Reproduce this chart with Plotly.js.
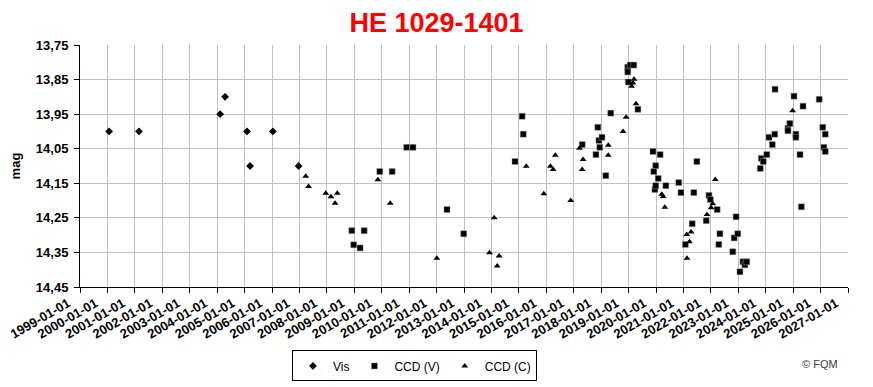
<!DOCTYPE html>
<html>
<head>
<meta charset="utf-8">
<script src="https://cdn.plot.ly/plotly-3.0.1.min.js"></script>
<style>
  html, body { margin: 0; padding: 0; background: #ffffff; }
  #chart { width: 873px; height: 387px; }
</style>
</head>
<body>
<div id="chart"></div>
<script>
// ---- Data (decimal years, magnitudes) ----
const visX = [2000.06, 2001.15, 2004.11, 2004.29, 2005.09, 2005.20, 2006.03, 2006.97];
const visY = [14.00, 14.00, 13.95, 13.90, 14.00, 14.10, 14.00, 14.10];

const ccdVX = [2008.91, 2008.98, 2009.21, 2009.36, 2009.93, 2010.38, 2010.91, 2011.14, 2012.38, 2012.99,
  2014.86, 2015.12, 2015.16, 2017.31, 2017.81, 2017.88, 2017.92, 2017.95, 2018.03, 2018.17,
  2018.35, 2018.97, 2018.97, 2018.99, 2019.06, 2019.19, 2019.34, 2019.89, 2019.92, 2019.96,
  2019.99, 2019.99, 2020.08, 2020.15, 2020.36, 2020.83, 2020.91, 2021.07, 2021.32, 2021.38,
  2021.49, 2021.83, 2021.93, 2021.98, 2022.23, 2022.29, 2022.33, 2022.80, 2022.85, 2022.92,
  2022.98, 2023.06, 2023.17, 2023.24, 2023.31, 2023.80, 2023.84, 2023.91, 2024.04, 2024.12,
  2024.24, 2024.33, 2024.34, 2024.81, 2024.81, 2024.88, 2025.03, 2025.10, 2025.10, 2025.25,
  2025.30, 2025.36, 2025.95, 2026.08, 2026.12, 2026.17, 2026.17];
const ccdVY = [14.287, 14.328, 14.337, 14.287, 14.116, 14.116, 14.046, 14.046, 14.226, 14.296,
  14.087, 13.956, 14.008, 14.038, 14.067, 13.988, 14.026, 14.046, 14.017, 14.128,
  13.947, 13.814, 13.828, 13.857, 13.808, 13.808, 13.936, 14.058, 14.116, 14.168,
  14.099, 14.157, 14.136, 14.067, 14.157, 14.148, 14.177, 14.327, 14.267, 14.177,
  14.087, 14.258, 14.185, 14.197, 14.226, 14.327, 14.296, 14.348, 14.308, 14.247,
  14.296, 14.406, 14.377, 14.386, 14.377, 14.107, 14.078, 14.087, 14.067, 14.017,
  14.038, 14.008, 13.878, 13.991, 13.998, 13.977, 13.898, 14.008, 14.017, 14.067,
  14.218, 13.927, 13.907, 13.988, 14.046, 14.008, 14.058];

const ccdCX = [2007.23, 2007.33, 2007.96, 2008.15, 2008.30, 2008.38, 2009.86, 2010.31, 2012.01, 2013.93,
  2014.10, 2014.21, 2014.28, 2015.27, 2015.91, 2016.15, 2016.25, 2016.33, 2016.89, 2017.21,
  2017.31, 2017.34, 2018.26, 2018.26, 2018.80, 2018.91, 2019.11, 2019.16, 2019.20, 2019.27,
  2020.21, 2020.26, 2020.32, 2021.12, 2021.13, 2021.22, 2021.28, 2021.86, 2022.01, 2022.07,
  2022.16, 2024.98];
const ccdCY = [14.130, 14.159, 14.179, 14.189, 14.208, 14.179, 14.140, 14.208, 14.367, 14.351,
  14.250, 14.389, 14.360, 14.101, 14.180, 14.101, 14.110, 14.069, 14.200, 14.049,
  14.110, 14.081, 14.040, 14.069, 14.000, 13.959, 13.869, 13.860, 13.849, 13.920,
  14.182, 14.188, 14.219, 14.298, 14.367, 14.319, 14.291, 14.240, 14.221, 14.209,
  14.139, 13.940];

// ---- Axis ticks ----
const yearTicks = [];
const yearLabels = [];
for (let yr = 1999; yr <= 2027; yr++) { yearTicks.push(yr); yearLabels.push(yr + '-01-01'); }
const magTicks = [13.75, 13.85, 13.95, 14.05, 14.15, 14.25, 14.35, 14.45];
const magLabels = ['13,75', '13,85', '13,95', '14,05', '14,15', '14,25', '14,35', '14,45'];

const FONT = 'Liberation Sans, Arial, sans-serif';

const traces = [
  { name: 'Vis', x: visX, y: visY, type: 'scatter', mode: 'markers',
    marker: { symbol: 'diamond', size: 6, color: '#000000' } },
  { name: 'CCD (V)', x: ccdVX, y: ccdVY, type: 'scatter', mode: 'markers',
    marker: { symbol: 'square', size: 6, color: '#000000', line: { color: '#9a9a9a', width: 0.5 } } },
  { name: 'CCD (C)', x: ccdCX, y: ccdCY, type: 'scatter', mode: 'markers',
    marker: { symbol: 'triangle-up', size: 6, color: '#000000' } }
];

const layout = {
  width: 873, height: 387,
  margin: { l: 80, r: 25, t: 45, b: 100, autoexpand: false },
  paper_bgcolor: '#ffffff', plot_bgcolor: '#ffffff',
  font: { family: FONT, color: '#000000' },
  title: { text: '<b>HE 1029-1401</b>', x: 0.5, xanchor: 'center', y: 0.943, yanchor: 'middle',
           font: { family: FONT, size: 27, color: '#ff0000' } },
  xaxis: {
    type: 'linear', range: [1999, 2027], tickmode: 'array', tickvals: yearTicks, ticktext: yearLabels,
    tickangle: -30, ticks: 'outside', ticklen: 5, tickcolor: '#000000',
    ticklabelshift: -12, ticklabelstandoff: -2, automargin: false,
    showline: true, linecolor: '#000000', linewidth: 1,
    showgrid: true, gridcolor: '#c0c0c0', gridwidth: 1, zeroline: false,
    tickfont: { family: FONT, size: 13, color: '#000000', weight: 'bold' }
  },
  yaxis: {
    range: [14.45, 13.75], tickmode: 'array', tickvals: magTicks, ticktext: magLabels,
    ticks: 'outside', ticklen: 5, tickcolor: '#000000',
    ticklabelstandoff: 3, automargin: false,
    showline: true, linecolor: '#000000', linewidth: 1,
    showgrid: true, gridcolor: '#c0c0c0', gridwidth: 1, zeroline: false,
    tickfont: { family: FONT, size: 13, color: '#000000', weight: 'bold' },
    title: { text: '<b>mag</b>', standoff: 12, font: { family: FONT, size: 13, color: '#000000' } }
  },
  showlegend: true,
  legend: {
    orientation: 'h', x: 0.4355, xanchor: 'center', y: -0.262, yanchor: 'top',
    bordercolor: '#000000', borderwidth: 1, bgcolor: '#ffffff',
    font: { family: FONT, size: 12, color: '#000000' }
  },
  annotations: [
    { text: '© FQM', xref: 'paper', yref: 'paper', x: 0.9896, y: -0.318, xanchor: 'right', yanchor: 'middle',
      showarrow: false, font: { family: FONT, size: 11, color: '#404040' } }
  ]
};

Plotly.newPlot('chart', traces, layout, { displayModeBar: false, staticPlot: true });
</script>
</body>
</html>
